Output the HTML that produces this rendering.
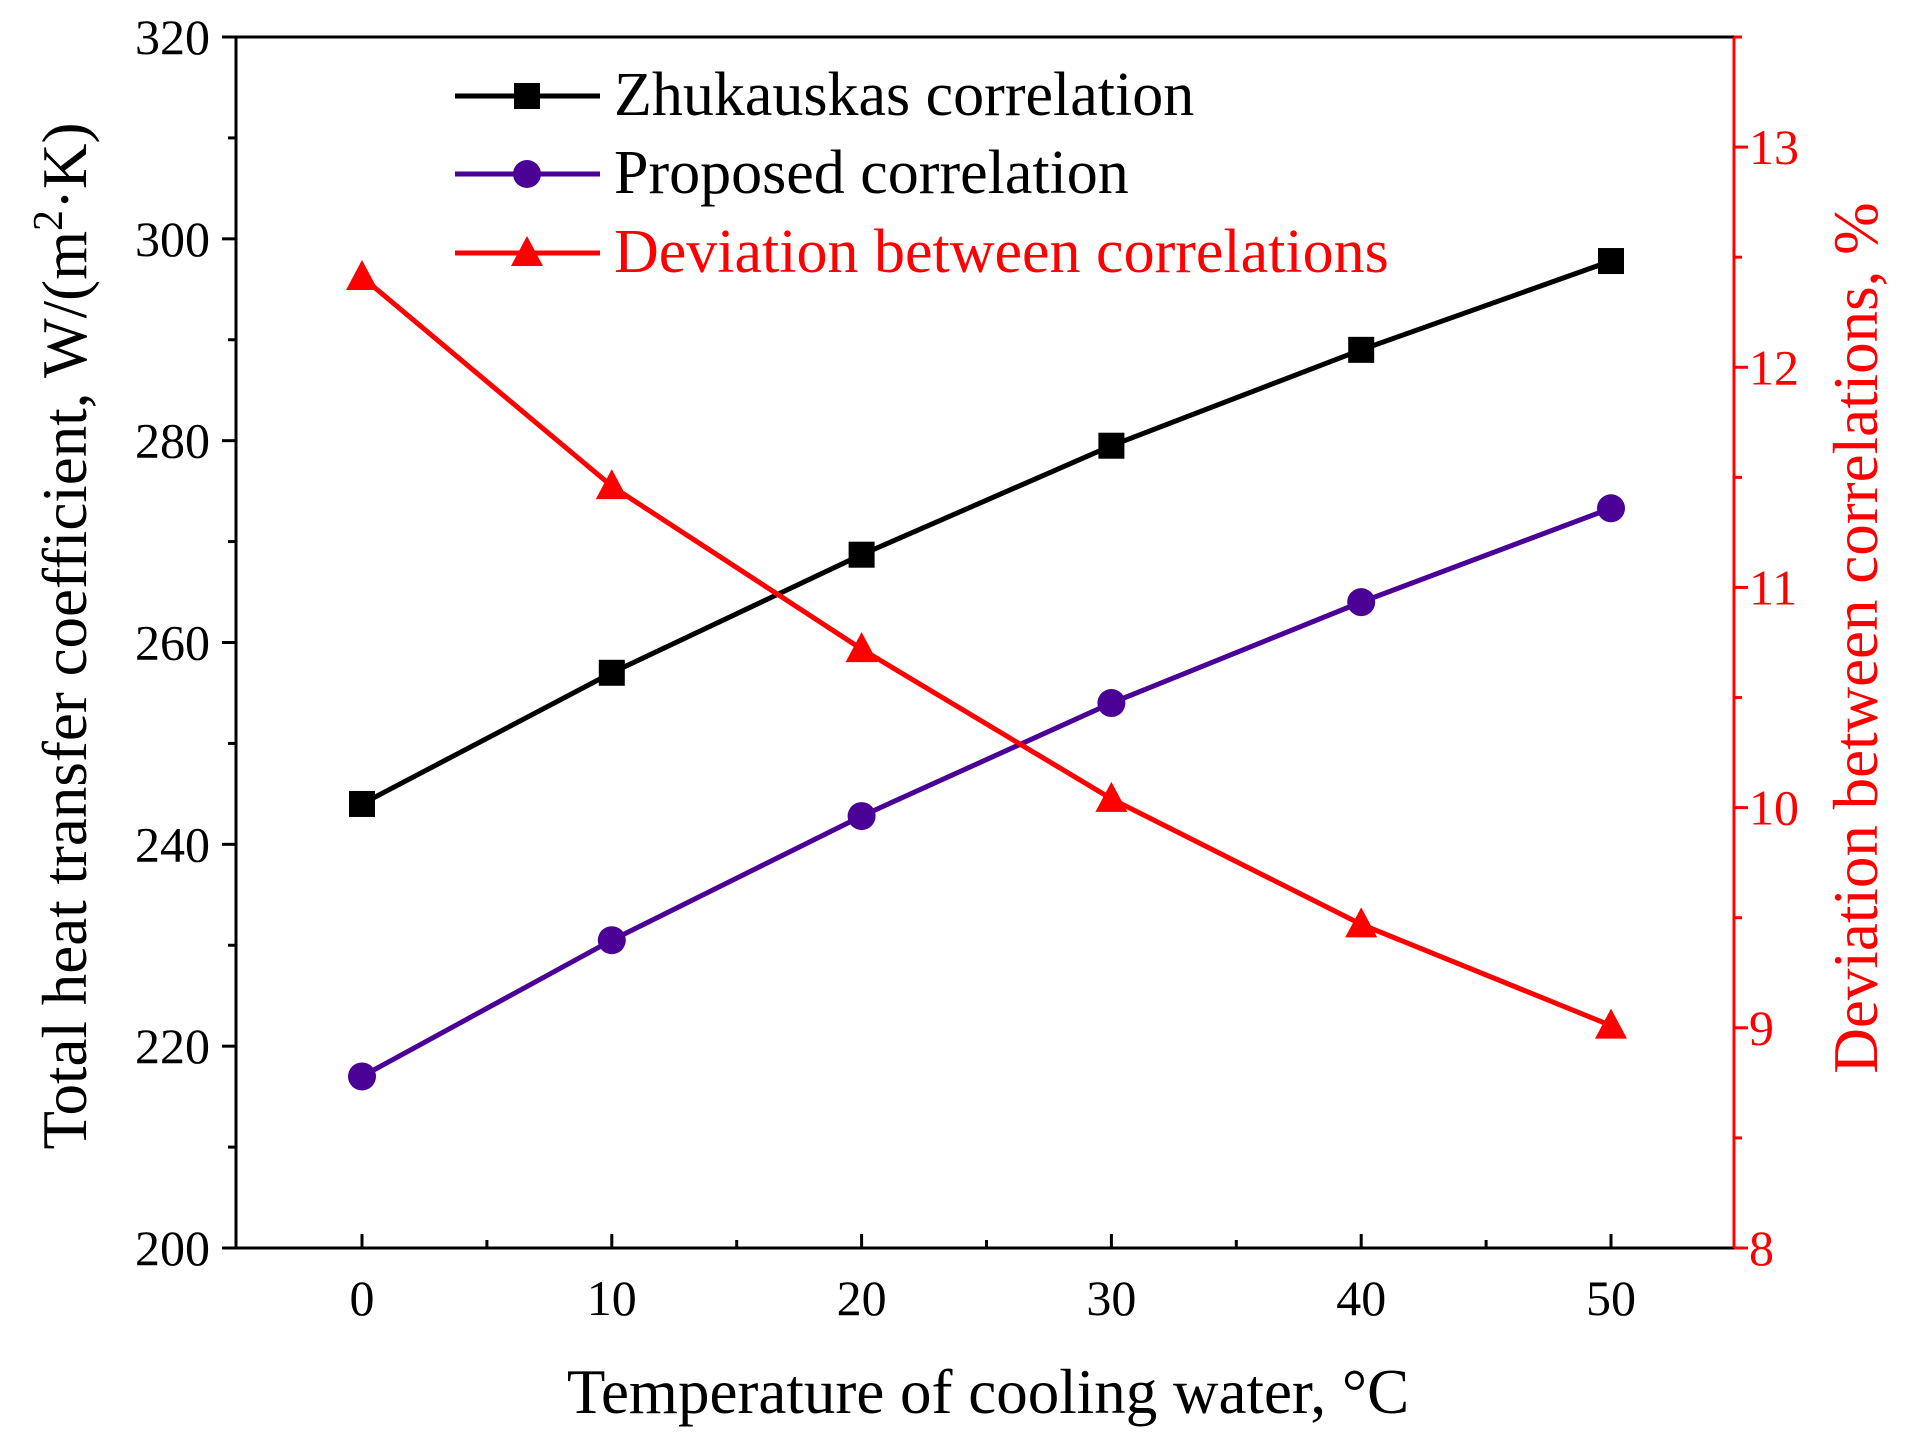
<!DOCTYPE html>
<html><head><meta charset="utf-8"><style>
body{margin:0;background:#fff}
svg{display:block;font-family:"Liberation Serif",serif}
</style></head><body>
<svg id="chart" width="1908" height="1433" viewBox="0 0 1908 1433"></svg>
<script>
const temps=[0,10,20,30,40,50];
const zhuk=[244,257,268.7,279.5,289,297.8];
const proposed=[217,230.5,242.8,254,264,273.3];
const deviation=[12.41,11.46,10.72,10.04,9.47,9.01];
const xTicks=[0,10,20,30,40,50];
const yLeftTicks=[200,220,240,260,280,300,320];
const yRightTicks=[8,9,10,11,12,13];

const L=236,R=1734,T=37,B=1248;
const x=v=>362+(v-0)*(1611-362)/50;
const yl=v=>B-(v-200)*(B-T)/120;
const yr=v=>B-(v-8)*(B-T)/5.5;
const svg=document.getElementById('chart');
const NS='http://www.w3.org/2000/svg';
function el(tag,attrs,parent){const e=document.createElementNS(NS,tag);for(const k in attrs)e.setAttribute(k,attrs[k]);(parent||svg).appendChild(e);return e;}
function txt(s,attrs){const e=el('text',attrs);e.textContent=s;return e;}

let a=el('line',{x1:L,y1:T,x2:L,y2:B,stroke:'#000','stroke-width':3});

a=el('line',{x1:L,y1:B,x2:R,y2:B,stroke:'#000','stroke-width':3});

a=el('line',{x1:L,y1:T,x2:R,y2:T,stroke:'#000','stroke-width':3});

a=el('line',{x1:R,y1:T,x2:R,y2:B,stroke:'#f00','stroke-width':3});


for(let v=200;v<=320;v+=10){const major=v%20===0;el('line',{x1:L,y1:yl(v),x2:L-(major?14:8),y2:yl(v),stroke:'#000','stroke-width':3});}
yLeftTicks.forEach(v=>{const t=txt(v,{x:210,y:yl(v)+17,'text-anchor':'end','font-size':50});
});
for(let v=8;v<=13.5;v+=0.5){const major=Number.isInteger(v);el('line',{x1:R,y1:yr(v),x2:R+(major?14:8),y2:yr(v),stroke:'#f00','stroke-width':3});}
yRightTicks.forEach(v=>{const t=txt(v,{x:1749,y:yr(v)+17,'text-anchor':'start','font-size':50,fill:'#f00'});
});
for(let v=0;v<=50;v+=5){const major=v%10===0;el('line',{x1:x(v),y1:B,x2:x(v),y2:B-(major?14:8),stroke:'#000','stroke-width':3});}
xTicks.forEach(v=>{const t=txt(v,{x:x(v),y:1315,'text-anchor':'middle','font-size':50});
});

let t=txt('Temperature of cooling water, \u00B0C',{x:988,y:1413,'text-anchor':'middle','font-size':63});

t=el('text',{transform:'translate(86,636) rotate(-90)','text-anchor':'middle','font-size':63});
t.innerHTML='Total heat transfer coefficient,  W/(m<tspan dy="-24" font-size="42">2</tspan><tspan dy="24">\u00B7K)</tspan>';

t=txt('Deviation between correlations, %',{transform:'translate(1877,638) rotate(-90)','text-anchor':'middle','font-size':63,fill:'#f00'});


function line(vals,fy,color,name){const p=el('polyline',{points:vals.map((v,i)=>x(temps[i])+','+fy(v)).join(' '),fill:'none',stroke:color,'stroke-width':5});
}
function marker(type,cx,cy,color){let m;
if(type==='sq')m=el('rect',{x:cx-13,y:cy-13,width:26,height:26,fill:color});
else if(type==='ci')m=el('circle',{cx:cx,cy:cy,r:14,fill:color});
else m=el('polygon',{points:`${cx},${cy-17} ${cx-16},${cy+13} ${cx+16},${cy+13}`,fill:color});
return m;}
line(zhuk,yl,'#000','zhukauskas-line');
line(proposed,yl,'#4b0096','proposed-line');
line(deviation,yr,'#f00','deviation-line');
zhuk.forEach((v,i)=>{const m=marker('sq',x(temps[i]),yl(v),'#000');
});
proposed.forEach((v,i)=>{const m=marker('ci',x(temps[i]),yl(v),'#4b0096');
});
deviation.forEach((v,i)=>{const m=marker('tr',x(temps[i]),yr(v),'#f00');
});

const leg=[['Zhukauskas correlation','#000','sq','#000',96],['Proposed correlation','#4b0096','ci','#000',174],['Deviation between correlations','#f00','tr','#f00',253]];
leg.forEach(([label,c,mk,tc,y])=>{
 const g=el('g',{});
 
 el('line',{x1:455,y1:y,x2:600,y2:y,stroke:c,'stroke-width':5},g);
 const m=marker(mk,527,y,c);g.appendChild(m);
 const tt=el('text',{x:614,y:y+19,'font-size':62,fill:tc},g);tt.textContent=label;
});
</script>
</body></html>
